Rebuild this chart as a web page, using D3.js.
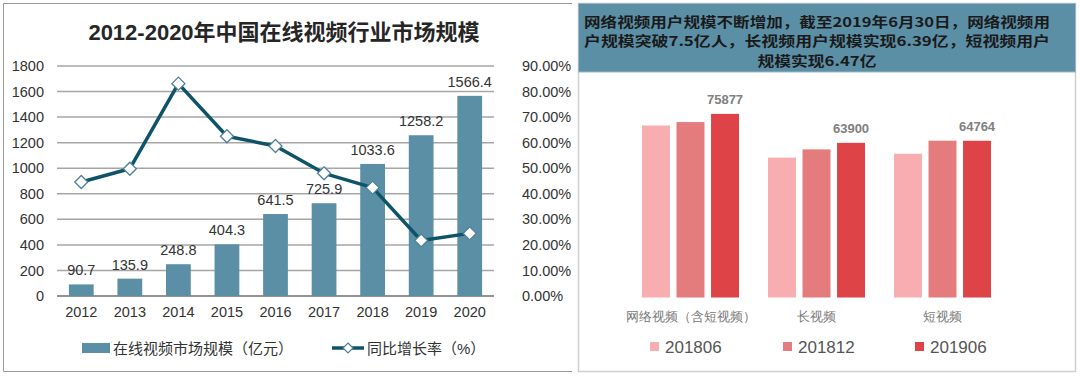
<!DOCTYPE html>
<html>
<head>
<meta charset="utf-8">
<script src="https://cdn.jsdelivr.net/npm/d3@7"></script>
<style>
  body { margin: 0; background: #fff; }
  svg { display: block; font-family: "Liberation Sans", "Noto Sans CJK SC", sans-serif; }
</style>
</head>
<body>
<svg id="chart" width="1080" height="376"></svg>
<script>
// ---- left chart data ----
const years = ["2012", "2013", "2014", "2015", "2016", "2017", "2018", "2019", "2020"];
const marketSize = [90.7, 135.9, 248.8, 404.3, 641.5, 725.9, 1033.6, 1258.2, 1566.4];
const growthRate = [44.6, 49.8, 83.1, 62.5, 58.7, 48.0, 42.4, 21.7, 24.5];
const leftTicks = [0, 200, 400, 600, 800, 1000, 1200, 1400, 1600, 1800];
const rightTicks = [0, 10, 20, 30, 40, 50, 60, 70, 80, 90];

// ---- right chart data ----
const userCats = ["网络视频（含短视频）", "长视频", "短视频"];
const periods = ["201806", "201812", "201906"];
const users201806 = [71087, 57800, 59400];
const users201812 = [72486, 61201, 64798];
const users201906 = [75877, 63900, 64764];
const headerLines = [
  "网络视频用户规模不断增加，截至2019年6月30日，网络视频用",
  "户规模突破7.5亿人，长视频用户规模实现6.39亿，短视频用户",
  "规模实现6.47亿"
];

const svg = d3.select("#chart");

// ================= LEFT PANEL =================
const barColor = "#5b8fa6";
const lineColor = "#0f5369";

// panel frame (left, top, bottom)
svg.append("path")
  .attr("d", "M572,3.5 H3.5 V371.5 H572")
  .attr("fill", "none")
  .attr("stroke", "#9a9a9a")
  .attr("stroke-width", 1);

svg.append("text")
  .attr("x", 284)
  .attr("y", 40)
  .attr("text-anchor", "middle")
  .style("font-size", "22px")
  .style("font-weight", "bold")
  .style("fill", "#262626")
  .text("2012-2020年中国在线视频行业市场规模");

const x = d3.scaleBand()
  .domain(years)
  .range([57, 494])
  .paddingInner(0.49)
  .paddingOuter(0.245);

const y = d3.scaleLinear().domain([0, 1800]).range([296, 66]);
const y2 = d3.scaleLinear().domain([0, 90]).range([296, 66]);

// gridlines
svg.append("g")
  .selectAll("line")
  .data(leftTicks)
  .join("line")
  .attr("x1", 57)
  .attr("x2", 494)
  .attr("y1", d => y(d))
  .attr("y2", d => y(d))
  .attr("stroke", d => d === 0 ? "#6f6f6f" : "#a6a6a6")
  .attr("stroke-width", 1.5);

// left axis
const leftAxis = svg.append("g")
  .attr("transform", "translate(50,0)")
  .call(d3.axisLeft(y).tickValues(leftTicks).tickSize(0).tickPadding(6).tickFormat(d3.format("d")));
leftAxis.select(".domain").remove();
leftAxis.selectAll("text")
  .style("font-size", "14.5px")
  .style("fill", "#333")
  .attr("font-family", null);

// right axis
const rightAxis = svg.append("g")
  .attr("transform", "translate(516,0)")
  .call(d3.axisRight(y2).tickValues(rightTicks).tickSize(0).tickPadding(6)
    .tickFormat(d => d.toFixed(2) + "%"));
rightAxis.select(".domain").remove();
rightAxis.selectAll("text")
  .style("font-size", "14.5px")
  .style("fill", "#333")
  .attr("font-family", null);

// bottom axis
const bottomAxis = svg.append("g")
  .attr("transform", "translate(0,296)")
  .call(d3.axisBottom(x).tickSize(0).tickPadding(11));
bottomAxis.select(".domain").remove();
bottomAxis.selectAll("text")
  .style("font-size", "14.5px")
  .style("fill", "#333")
  .attr("font-family", null);

// bars
svg.append("g")
  .selectAll("rect")
  .data(marketSize)
  .join("rect")
  .attr("x", (d, i) => x(years[i]))
  .attr("y", d => y(d))
  .attr("width", x.bandwidth())
  .attr("height", d => y(0) - y(d))
  .attr("fill", barColor);

// value labels
svg.append("g")
  .selectAll("text")
  .data(marketSize)
  .join("text")
  .attr("x", (d, i) => x(years[i]) + x.bandwidth() / 2)
  .attr("y", d => y(d) - 9)
  .attr("text-anchor", "middle")
  .style("font-size", "14.5px")
  .style("fill", "#333")
  .text(d => d);

// growth line
const line = d3.line()
  .x((d, i) => x(years[i]) + x.bandwidth() / 2)
  .y(d => y2(d));

svg.append("path")
  .datum(growthRate)
  .attr("d", line)
  .attr("fill", "none")
  .attr("stroke", lineColor)
  .attr("stroke-width", 3.5)
  .attr("stroke-linejoin", "round");

const diamond = r => `M0,${-r} L${r},0 L0,${r} L${-r},0 Z`;

svg.append("g")
  .selectAll("path")
  .data(growthRate)
  .join("path")
  .attr("transform", (d, i) => `translate(${x(years[i]) + x.bandwidth() / 2},${y2(d)})`)
  .attr("d", diamond(6.5))
  .attr("fill", "#fff")
  .attr("stroke", "#4f8196")
  .attr("stroke-width", 1.3);

// left legend
const lg = svg.append("g").style("font-size", "15px").style("fill", "#333");
lg.append("rect").attr("x", 82).attr("y", 343).attr("width", 28).attr("height", 10).attr("fill", barColor);
lg.append("text").attr("x", 113).attr("y", 354).text("在线视频市场规模（亿元）");
lg.append("line").attr("x1", 332).attr("x2", 364).attr("y1", 348).attr("y2", 348)
  .attr("stroke", lineColor).attr("stroke-width", 3.5);
lg.append("path").attr("transform", "translate(348,348)").attr("d", diamond(5))
  .attr("fill", "#fff").attr("stroke", "#4f8196").attr("stroke-width", 1.2);
lg.append("text").attr("x", 367).attr("y", 354).text("同比增长率（%）");

// ================= RIGHT PANEL =================
const barColors = ["#f8aeb0", "#e47b7c", "#de4347"];

svg.append("rect")
  .attr("x", 578.5).attr("y", 3.5)
  .attr("width", 497).attr("height", 368)
  .attr("fill", "#fff")
  .attr("stroke", "#cfcfcf")
  .attr("stroke-width", 1.5);

svg.append("rect")
  .attr("x", 578.5).attr("y", 3.5)
  .attr("width", 497).attr("height", 68.5)
  .attr("fill", "#5b8fa6")
  .attr("stroke", "#9fb6c1")
  .attr("stroke-width", 1);

svg.append("g")
  .selectAll("text")
  .data(headerLines)
  .join("text")
  .attr("x", 817)
  .attr("y", (d, i) => 26.5 + i * 19.5)
  .attr("text-anchor", "middle")
  .attr("textLength", (d, i) => i < 2 ? 466 : 119)
  .attr("lengthAdjust", "spacingAndGlyphs")
  .style("font-family", "'Noto Sans CJK SC', sans-serif")
  .style("font-size", "13.5px")
  .style("font-weight", "bold")
  .style("fill", "#1a1a1a")
  .text(d => d);

const x0 = d3.scaleBand().domain(userCats).range([627.5, 1005.5]).paddingInner(0.23).paddingOuter(0.115);
const x1 = d3.scaleBand().domain(periods).range([0, x0.bandwidth()]).paddingInner(0.19);
const yU = d3.scaleLinear().domain([0, 80000]).range([297.5, 103.9]);

const series = [users201806, users201812, users201906];
const groups = svg.append("g")
  .selectAll("g")
  .data(userCats)
  .join("g")
  .attr("transform", d => `translate(${x0(d)},0)`);

groups.selectAll("rect")
  .data((c, ci) => periods.map((p, pi) => ({ p, pi, v: series[pi][ci] })))
  .join("rect")
  .attr("x", d => x1(d.p))
  .attr("y", d => yU(d.v))
  .attr("width", x1.bandwidth())
  .attr("height", d => yU(0) - yU(d.v))
  .attr("fill", d => barColors[d.pi]);

// only latest period labelled
groups.append("text")
  .attr("x", x1("201906") + x1.bandwidth() / 2)
  .attr("y", (c, ci) => yU(users201906[ci]) - 10)
  .attr("text-anchor", "middle")
  .style("font-size", "13px")
  .style("font-weight", "bold")
  .style("fill", "#808080")
  .text((c, ci) => users201906[ci]);

// category labels
const catAxis = svg.append("g")
  .attr("transform", "translate(0,297.5)")
  .call(d3.axisBottom(x0).tickSize(0).tickPadding(14));
catAxis.select(".domain").remove();
catAxis.selectAll("text")
  .style("font-size", "13px")
  .style("fill", "#7a7a7a")
  .attr("font-family", null);

// right legend
const legendX = [650, 783, 915];
const rl = svg.append("g")
  .selectAll("g")
  .data(periods)
  .join("g")
  .attr("transform", (d, i) => `translate(${legendX[i]},342)`);
rl.append("rect").attr("width", 9).attr("height", 9).attr("fill", (d, i) => barColors[i]);
rl.append("text").attr("x", 15).attr("y", 11)
  .style("font-size", "17px")
  .style("fill", "#555")
  .text(d => d);
</script>
</body>
</html>
